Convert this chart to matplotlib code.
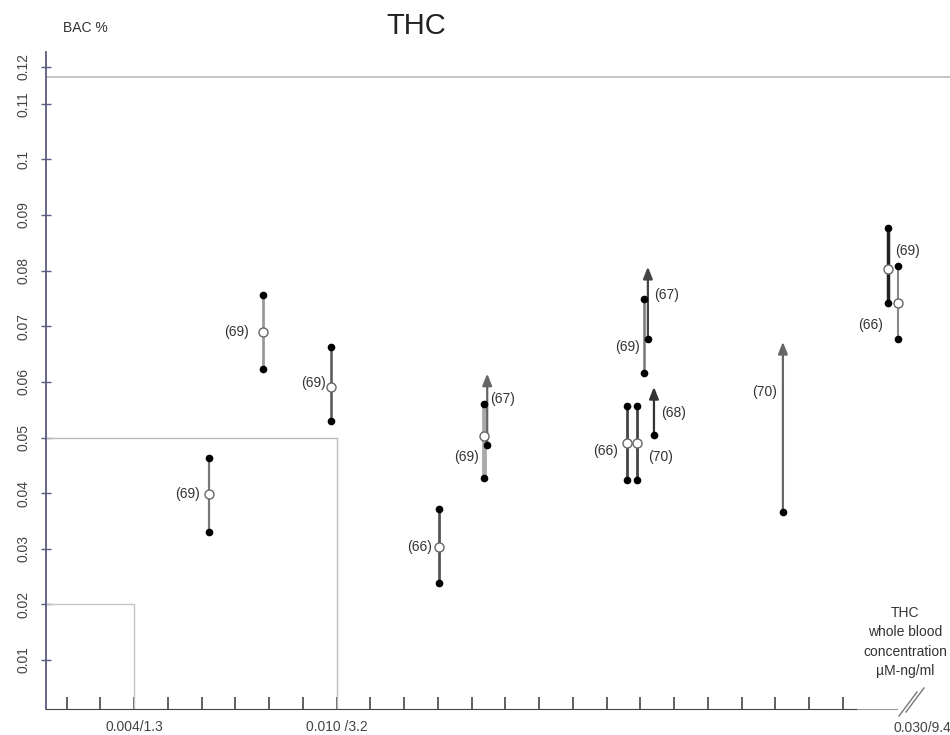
import matplotlib.pyplot as plt
import numpy as np
from matplotlib.lines import Line2D

plt.rcParams['font.family'] = ['Liberation Sans', 'DejaVu Sans']

# BAC ranges (low / median / high) vs THC whole blood concentration (uM)
bar_x = [0.00622, 0.00782, 0.00984, 0.01303, 0.01437, 0.01860, 0.01890, 0.01911, 0.02633, 0.02663]
bar_low = [0.0330, 0.0623, 0.0530, 0.0239, 0.0427, 0.0424, 0.0424, 0.0616, 0.0742, 0.0677]
bar_mid = [0.0399, 0.0690, 0.0591, 0.0303, 0.0503, 0.0490, 0.0490, None, 0.0803, 0.0742]
bar_high = [0.0463, 0.0756, 0.0663, 0.0372, 0.0560, 0.0557, 0.0557, 0.0749, 0.0877, 0.0809]
bar_ref = ["(69)", "(69)", "(69)", "(66)", "(69)", "(66)", "(70)", "(69)", "(69)", "(66)"]

# open-ended values (arrow = "greater than")
arrow_x = [0.01446, 0.01922, 0.01940, 0.02322]
arrow_base = [0.0487, 0.0677, 0.0504, 0.0366]
arrow_tip = [0.0615, 0.0807, 0.0591, 0.0672]
arrow_ref = ["(67)", "(67)", "(68)", "(70)"]

# styles
bar_col = ['#777', '#999', '#555', '#555', '#aaa', '#444', '#444', '#777', '#222', '#888']
bar_lw = [1.6, 2.0, 1.8, 2.0, 3.5, 2.0, 2.0, 1.8, 2.5, 1.5]
bar_off = [(-22, 0), (-27, 0), (-18, 4), (-19, 0), (-18, -21), (-21, -8), (23, -14),
           (-17, -11), (20, 18), (-27, -22)]
arrow_col = ['#666', '#444', '#333', '#666']
arrow_off = [(15, -25), (19, -28), (20, -26), (-18, -50)]

txt = '#333'
fs = 10

fig = plt.figure(figsize=(9.5, 7.35), dpi=100)
ax = fig.add_axes([46 / 950, 26 / 735, 904 / 950, 657 / 735])
ax.set_xlim(0.00139, 0.02817)
ax.set_ylim(0.0012, 0.1193)

# reference boxes and upper line
ax.plot([0.00139, 0.004, 0.004], [0.02, 0.02, 0.0012], color='#c4c4c4', lw=1)
ax.plot([0.00139, 0.010, 0.010], [0.05, 0.05, 0.0012], color='#bbb', lw=1)
ax.axhline(0.11486, color='#bbb', lw=1.2)

for i in range(len(bar_x)):
    ax.plot([bar_x[i], bar_x[i]], [bar_low[i], bar_high[i]], color=bar_col[i],
            lw=bar_lw[i], solid_capstyle='butt', zorder=2)
    ax.plot([bar_x[i]] * 2, [bar_low[i], bar_high[i]], 'o', color='black', ms=4.5, zorder=4)
    mid = bar_mid[i]
    if mid is not None:
        ax.plot(bar_x[i], mid, 'o', mfc='white', mec='#666', mew=1, ms=6.5, zorder=5)
    else:
        mid = (bar_low[i] + bar_high[i]) / 2
    ax.annotate(bar_ref[i], (bar_x[i], mid), xytext=bar_off[i], textcoords='offset pixels',
                ha='center', va='center', fontsize=fs, color=txt)

for i in range(len(arrow_x)):
    ax.annotate('', xy=(arrow_x[i], arrow_tip[i]), xytext=(arrow_x[i], arrow_base[i]),
                arrowprops=dict(arrowstyle='-|>,head_length=0.5,head_width=0.2',
                                mutation_scale=14, color=arrow_col[i], lw=1.6,
                                shrinkA=0, shrinkB=0), zorder=3)
    ax.plot(arrow_x[i], arrow_base[i], 'o', color='black', ms=4.5, zorder=4)
    ax.annotate(arrow_ref[i], (arrow_x[i], arrow_tip[i]), xytext=arrow_off[i],
                textcoords='offset pixels', ha='center', va='center', fontsize=fs, color=txt)

# axes styling
for s in ['top', 'right']:
    ax.spines[s].set_visible(False)
ax.spines['left'].set_color('#5a5a80')
ax.spines['left'].set_linewidth(1.3)
ax.spines['bottom'].set_color('#444')
ax.spines['bottom'].set_bounds(0.00139, 0.0254)
ax.plot([0.0254, 0.0266], [0.0012, 0.0012], color='#999', lw=0.8, clip_on=False)

yt = [0.01, 0.02, 0.03, 0.04, 0.05, 0.06, 0.07, 0.08, 0.09, 0.10, 0.11, 0.11665]
yl = ["0.01", "0.02", "0.03", "0.04", "0.05", "0.06", "0.07", "0.08", "0.09", "0.1", "0.11", "0.12"]
ax.set_yticks(yt)
ax.set_yticklabels(yl, rotation=90, va='center')
ax.tick_params(axis='y', direction='inout', length=7, width=1, color='#5a5a80',
               labelsize=fs, labelcolor='#444', pad=8)

xt = np.round(np.arange(0.002, 0.0255, 0.001), 3)
xl = {0.004: "0.004/1.3", 0.010: "0.010 /3.2"}
ax.set_xticks(xt)
ax.set_xticklabels([xl.get(t, "") for t in xt])
ax.tick_params(axis='x', direction='in', length=8.5, width=1.3, color='#555',
               labelsize=fs, labelcolor='#444', pad=8)

# axis break and far label
fig.add_artist(Line2D([906 / 950, 924 / 950], [1 - 712 / 735, 1 - 688 / 735],
                      color='#777', lw=1, transform=fig.transFigure))
fig.add_artist(Line2D([899 / 950, 917 / 950], [1 - 716 / 735, 1 - 692 / 735],
                      color='#777', lw=1, transform=fig.transFigure))
fig.text(893 / 950, 1 - 728 / 735, "0.030/9.4", ha='left', va='center', fontsize=fs, color='#444')

fig.text(905 / 950, 1 - 642 / 735, "THC\nwhole blood\nconcentration\nµM-ng/ml",
         ha='center', va='center', multialignment='center', fontsize=fs, color=txt,
         linespacing=1.5)
fig.text(416 / 950, 1 - 26 / 735, "THC", ha='center', va='center', fontsize=21, color='#222')
fig.text(63 / 950, 1 - 28 / 735, "BAC %", ha='left', va='center', fontsize=fs, color=txt)

fig.savefig('out.png', dpi=100)
